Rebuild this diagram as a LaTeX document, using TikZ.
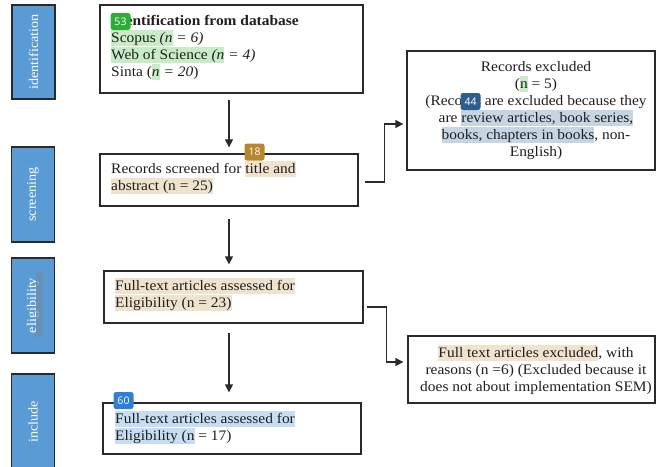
\documentclass[tikz,border=0pt]{standalone}
\usepackage{fontspec}
\setmainfont{Liberation Serif}[FakeStretch=1.065]
\newfontfamily\badgefont{Open Sans}
\usetikzlibrary{arrows.meta,calc}
\definecolor{sideblue}{HTML}{5B9BD5}
\definecolor{edgegray}{HTML}{2A2A2A}
\definecolor{hlgreen}{HTML}{C8EBC8}
\definecolor{hltan}{HTML}{EFE3CE}
\definecolor{hlslate}{HTML}{C6D5E3}
\definecolor{hlblue}{HTML}{C7DDF3}
\definecolor{bgreen}{HTML}{2EAE36}
\definecolor{bgold}{HTML}{B8862C}
\definecolor{bnavy}{HTML}{2E5F8A}
\definecolor{bblue}{HTML}{2F7FD8}
\definecolor{overlaygray}{HTML}{6F8A9E}
\newcommand\hs{\rule[-4pt]{0pt}{16pt}}
\newcommand\hlc[2]{{\setlength\fboxsep{0pt}\colorbox{#1}{\hs#2}}}
\tikzset{
  boxst/.style={draw=edgegray, line width=1.3pt, inner sep=0pt, fill=white},
  side/.style={draw=edgegray, line width=1.3pt, fill=sideblue, text=white, inner sep=0pt,
    font=\fontsize{13.3}{15}\selectfont, rotate=90, minimum height=43pt},
  txt/.style={inner sep=0pt, align=left, text=black!88, font=\fontsize{14.5}{17}\selectfont},
  ctxt/.style={txt, align=center},
  badge/.style={fill=#1, rounded corners=2.5pt, text=white, inner sep=0pt,
    font=\badgefont\fontsize{10.5}{12}\selectfont, minimum width=20pt, minimum height=17pt},
  arr/.style={draw=edgegray, line width=1.3pt, -{Triangle[width=8pt,length=8pt]}},
}
\begin{document}
\begin{tikzpicture}[x=1pt,y=-1pt]
\useasboundingbox (0,0) rectangle (658,466);
\clip (0,0) rectangle (658,466);
\fill[white] (0,0) rectangle (658,466);
% sidebars
\node[side, minimum width=94pt] (s1) at (33.5,52) {identification};
\node[side, minimum width=95pt] (s2) at (33,194.5) {screening};
\node[side, minimum width=95pt] (s3) at (33,305.5) {eligibility};
\fill[overlaygray, opacity=0.6] (36,272) rectangle (43,337);
\node[side, minimum width=96pt] (s4) at (33,422) {include};
% boxes
\node[boxst, minimum width=263pt, minimum height=88pt] (b1) at (231.5,49) {};
\node[boxst, minimum width=248pt, minimum height=119pt] (ex1) at (531,110.5) {};
\node[boxst, minimum width=258pt, minimum height=52pt] (b2) at (229,180) {};
\node[boxst, minimum width=259pt, minimum height=52pt] (b3) at (233.5,297) {};
\node[boxst, minimum width=247pt, minimum height=67pt] (ex2) at (531.5,369.5) {};
\node[boxst, minimum width=258pt, minimum height=51pt] (b5) at (232,428.5) {};
% texts
\node[txt, anchor=north west] (t1) at (111,13) {\hs\textbf{Identification from database}\\
\hlc{hlgreen}{Scopus \textit{(n}}\textit{ = 6)}\\
\hlc{hlgreen}{Web of Science \textit{(n}}\textit{ = 4)}\\
Sinta (\hlc{hlgreen}{\textit{n}}\textit{ = 20})};
\node[ctxt, anchor=north] (tx1) at (536,59) {\hs Records excluded\\
(\hlc{hlgreen}{n} = 5)\\
(Records are excluded because they\\
are \hlc{hlslate}{review articles, book series,}\\
\hlc{hlslate}{books, chapters in books}, non-\\
English)};
\node[txt, anchor=north west] (t2) at (111,161) {\hs Records screened for \hlc{hltan}{title and}\\
\hlc{hltan}{abstract (n = 25)}};
\node[txt, anchor=north west] (t3) at (115,278) {\hlc{hltan}{Full-text articles assessed for}\\
\hlc{hltan}{Eligibility (n = 23)}};
\node[ctxt, anchor=north] (tx2) at (536,345) {\hlc{hltan}{Full text articles excluded}, with\\
reasons (n =6) (Excluded because it\\
does not about implementation SEM)};
\node[txt, anchor=north west] (t5) at (115,411) {\hlc{hlblue}{Full-text articles assessed for}\\
\hlc{hlblue}{Eligibility (n} = 17)};
% badges
\node[badge=bgreen] (g53) at (120.5,21.5) {53};
\node[badge=bgold] (g18) at (254.5,152) {18};
\node[badge=bnavy] (g44) at (470.5,101.5) {44};
\node[badge=bblue] (g60) at (123.5,400.5) {60};
% connectors
\draw[arr] (b2.north |- b1.south) ++(0,6) -- ($(b2.north)+(0,-6)$);
\draw[arr] ($(b2.south)+(0,12)$) -- ($(b2.south |- b3.north)+(0,-6)$);
\draw[arr] ($(b3.south)+(-4.5,9)$) -- ($(b5.north)+(-3,-10)$);
\draw[arr] ($(b2.east)+(6,2)$) -- ++(20,0) |- ($(ex1.west)+(-3,13.5)$);
\draw[arr] ($(b3.east)+(3,10)$) -- ++(20,0) |- ($(ex2.west)+(-4,-7.5)$);
\end{tikzpicture}
\end{document}
